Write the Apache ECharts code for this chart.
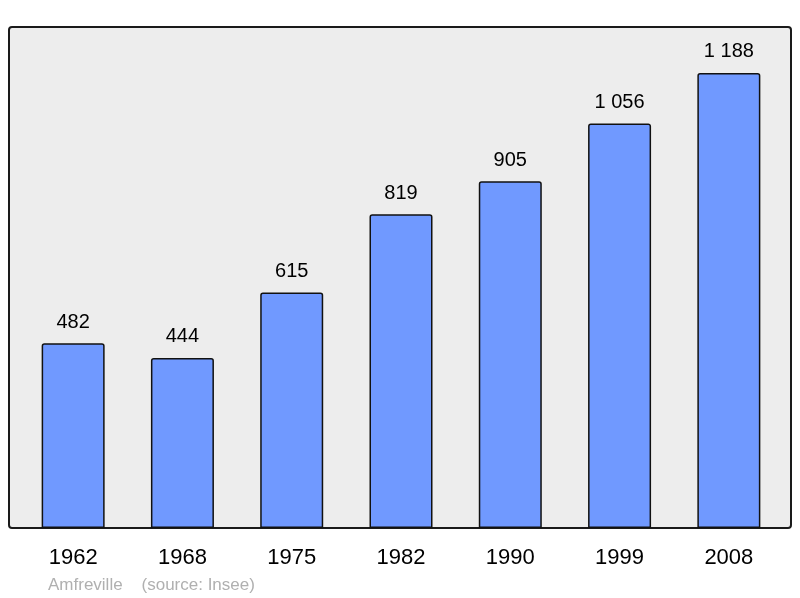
<!DOCTYPE html>
<html>
<head>
<meta charset="utf-8">
<script src="https://cdn.jsdelivr.net/npm/echarts@6/dist/echarts.min.js"></script>
<style>
    html, body {
        margin: 0;
        padding: 0;
        background: #fff;
    }
    #chart {
        width: 800px;
        height: 598px;
    }
</style>
</head>
<body>
<div id="chart"></div>
<script>
const years = ['1962', '1968', '1975', '1982', '1990', '1999', '2008']
const population = [482, 444, 615, 819, 905, 1056, 1188]
const yMax = 1300

// "1 188" style thousands separator
function formatNumber(v) {
    return String(v).replace(/\B(?=(\d{3})+(?!\d))/g, ' ')
}

const chart = echarts.init(document.getElementById('chart'))
chart.setOption({
    animation: false,
    textStyle: {
        fontFamily: 'Liberation Sans, Arial, sans-serif'
    },
    grid: {
        left: 18.5,
        right: 16.5,
        top: 30,
        bottom: 70
    },
    graphic: [
        {
            type: 'rect',
            z: 0,
            silent: true,
            shape: {x: 9, y: 27, width: 782, height: 501, r: 3},
            style: {fill: '#ededed', stroke: '#1a1a1a', lineWidth: 2}
        },
        {
            type: 'text',
            z: 5,
            silent: true,
            x: 48,
            y: 585,
            style: {
                text: 'Amfreville    (source: Insee)',
                fill: '#b0b0b0',
                fontSize: 17,
                fontFamily: 'Liberation Sans, Arial, sans-serif',
                verticalAlign: 'middle'
            }
        }
    ],
    xAxis: {
        type: 'category',
        data: years,
        axisLine: {show: false},
        axisTick: {show: false},
        axisLabel: {
            color: '#000',
            fontSize: 22,
            margin: 19
        }
    },
    yAxis: {
        type: 'value',
        min: 0,
        max: yMax,
        show: false,
        splitLine: {show: false}
    },
    series: [
        {
            type: 'bar',
            data: population,
            barWidth: 63,
            z: 3,
            itemStyle: {
                color: '#7099ff',
                borderColor: '#111',
                borderWidth: 1.5,
                borderRadius: [2, 2, 0, 0]
            },
            label: {
                show: true,
                position: 'top',
                distance: 11,
                color: '#000',
                fontSize: 20,
                formatter: p => formatNumber(p.value)
            }
        }
    ]
})
</script>
</body>
</html>
